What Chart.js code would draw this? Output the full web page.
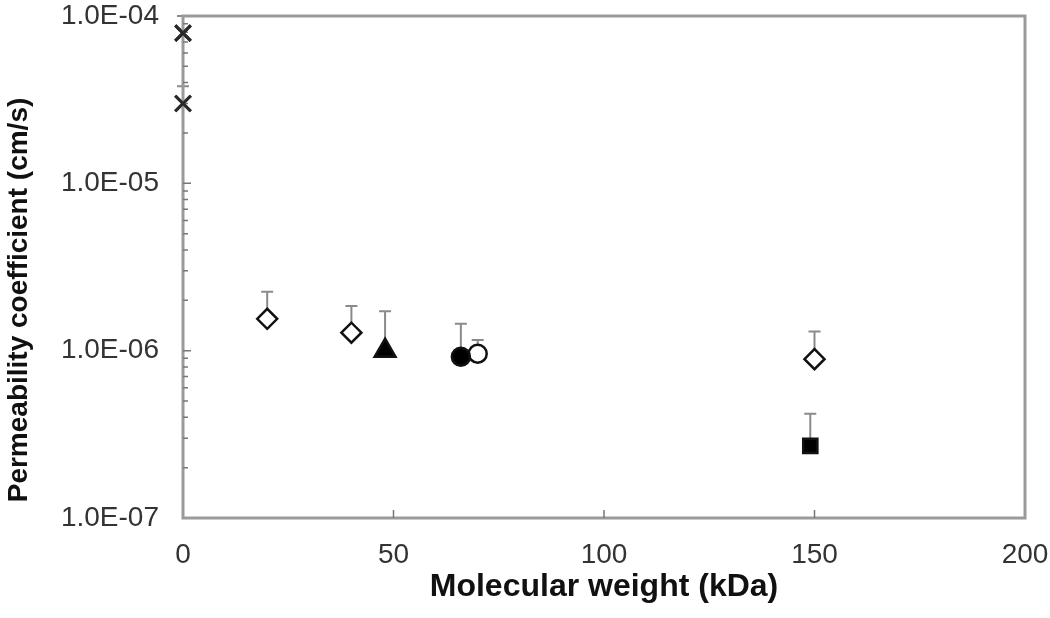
<!DOCTYPE html>
<html>
<head>
<meta charset="utf-8">
<script src="https://cdn.jsdelivr.net/npm/chart.js@4"></script>
<style>
  html, body { margin: 0; padding: 0; background: #fff; }
  #wrap { width: 1050px; height: 618px; }
</style>
</head>
<body>
<div id="wrap"><canvas id="chart"></canvas></div>
<script>
// data (x = kDa, y = cm/s, err = top of the error bar)
const crossMw = [0, 0];
const crossPerm = [7.9e-5, 3.0e-5];
const crossErr = [1.0e-4, 3.8e-5];

const diamondMw = [20, 40, 150];
const diamondPerm = [1.55e-6, 1.28e-6, 8.9e-7];
const diamondErr = [2.25e-6, 1.85e-6, 1.3e-6];

const triangleMw = [48];
const trianglePerm = [1.0e-6];
const triangleErr = [1.72e-6];

const dotMw = [66];
const dotPerm = [9.2e-7];
const dotErr = [1.45e-6];

const ringMw = [70];
const ringPerm = [9.6e-7];
const ringErr = [1.16e-6];

const squareMw = [149];
const squarePerm = [2.7e-7];
const squareErr = [4.2e-7];

const xTicks = [0, 50, 100, 150, 200];
const yTicks = [1e-7, 1e-6, 1e-5, 1e-4];
const yTitle = "Permeability coefficient (cm/s)";

const AXIS_GREY = "#9a9a9a";

function pts(xs, ys, es) {
    return xs.map((x, i) => ({ x: x, y: ys[i], err: es[i] }));
}

function fmtExp(v) {
    const e = Math.round(Math.log10(v));
    const sign = e < 0 ? "-" : "+";
    return "1.0E" + sign + String(Math.abs(e)).padStart(2, "0");
}

// error bars (upper only), frame, inward tick marks, y title
const extrasPlugin = {
    id: "extras",
    beforeDatasetsDraw(chart) {
        const ctx = chart.ctx;
        const xs = chart.scales.x, ys = chart.scales.y;
        ctx.save();
        ctx.strokeStyle = "#8a8a8a";
        ctx.lineWidth = 2;
        chart.data.datasets.forEach(ds => {
            ds.data.forEach(p => {
                const px = xs.getPixelForValue(p.x);
                const py = ys.getPixelForValue(p.y);
                const pe = ys.getPixelForValue(p.err);
                ctx.beginPath();
                ctx.moveTo(px, py);
                ctx.lineTo(px, pe);
                ctx.moveTo(px - 6, pe);
                ctx.lineTo(px + 6, pe);
                ctx.stroke();
            });
        });
        ctx.restore();
    },
    afterDraw(chart) {
        const ctx = chart.ctx;
        const a = chart.chartArea;
        const xs = chart.scales.x, ys = chart.scales.y;
        ctx.save();
        ctx.strokeStyle = AXIS_GREY;
        ctx.lineWidth = 3;
        ctx.strokeRect(a.left, a.top, a.right - a.left, a.bottom - a.top);
        ctx.lineWidth = 1.5;
        ctx.strokeStyle = "#777";
        ctx.beginPath();
        xTicks.slice(1, -1).forEach(t => {
            const px = xs.getPixelForValue(t);
            ctx.moveTo(px, a.bottom);
            ctx.lineTo(px, a.bottom - 8);
        });
        for (let e = -7; e < -4; e++) {
            for (let m = 1; m <= 9; m++) {
                if (m === 1 && e === -7) continue;
                const py = ys.getPixelForValue(m * Math.pow(10, e));
                ctx.moveTo(a.left, py);
                ctx.lineTo(a.left + (m === 1 ? 8 : 5), py);
            }
        }
        ctx.stroke();
        // crosses sit on the left axis, draw them over the frame
        chart.getDatasetMeta(0).data.forEach(el => el.draw(ctx));

        ctx.translate(19, 300);
        ctx.rotate(-Math.PI / 2);
        ctx.fillStyle = "#111";
        ctx.font = "bold 28px 'Liberation Sans'";
        ctx.textAlign = "center";
        ctx.textBaseline = "middle";
        ctx.fillText(yTitle, 0, 0);
        ctx.restore();
    }
};

const markerBase = { pointBorderColor: "#111", pointBorderWidth: 2.5, showLine: false, clip: false };

new Chart(document.getElementById("chart"), {
    type: "scatter",
    data: {
        datasets: [
            Object.assign({}, markerBase, { label: "cross", data: pts(crossMw, crossPerm, crossErr),
                pointStyle: "crossRot", pointRadius: 11, pointBorderColor: "#2a2a2a", pointBorderWidth: 3 }),
            Object.assign({}, markerBase, { label: "diamond", data: pts(diamondMw, diamondPerm, diamondErr),
                pointStyle: "rectRot", pointRadius: 10, pointBackgroundColor: "#fff" }),
            Object.assign({}, markerBase, { label: "triangle", data: pts(triangleMw, trianglePerm, triangleErr),
                pointStyle: "triangle", pointRadius: 12, pointBackgroundColor: "#000" }),
            Object.assign({}, markerBase, { label: "dot", data: pts(dotMw, dotPerm, dotErr),
                pointStyle: "circle", pointRadius: 9, pointBackgroundColor: "#000" }),
            Object.assign({}, markerBase, { label: "ring", data: pts(ringMw, ringPerm, ringErr),
                pointStyle: "circle", pointRadius: 9, pointBackgroundColor: "#fff" }),
            Object.assign({}, markerBase, { label: "square", data: pts(squareMw, squarePerm, squareErr),
                pointStyle: "rect", pointRadius: 10, pointBackgroundColor: "#000" })
        ]
    },
    options: {
        responsive: true,
        maintainAspectRatio: false,
        animation: false,
        layout: { padding: 0 },
        plugins: { legend: { display: false }, tooltip: { enabled: false } },
        scales: {
            x: {
                type: "linear",
                min: 0,
                max: 200,
                afterBuildTicks: s => { s.ticks = xTicks.map(v => ({ value: v })); },
                afterFit: s => { s.height = 100; s.paddingRight = 25; s.paddingLeft = 0; },
                grid: { display: false },
                border: { display: false },
                ticks: {
                    color: "#333",
                    padding: 12,
                    font: { family: "Liberation Sans", size: 28 },
                    maxRotation: 0
                },
                title: {
                    display: true,
                    text: "Molecular weight (kDa)",
                    color: "#111",
                    padding: { top: 0, bottom: 12 },
                    font: { family: "Liberation Sans", size: 32, weight: "bold" }
                }
            },
            y: {
                type: "logarithmic",
                min: 1e-7,
                max: 1e-4,
                afterBuildTicks: s => { s.ticks = yTicks.map(v => ({ value: v })); },
                afterFit: s => { s.width = 183; s.paddingTop = 16; s.paddingBottom = 0; },
                grid: { display: false },
                border: { display: false },
                ticks: {
                    color: "#333",
                    padding: 16,
                    font: { family: "Liberation Sans", size: 28 },
                    callback: v => fmtExp(v)
                },
                title: { display: false }
            }
        }
    },
    plugins: [extrasPlugin]
});
</script>
</body>
</html>
